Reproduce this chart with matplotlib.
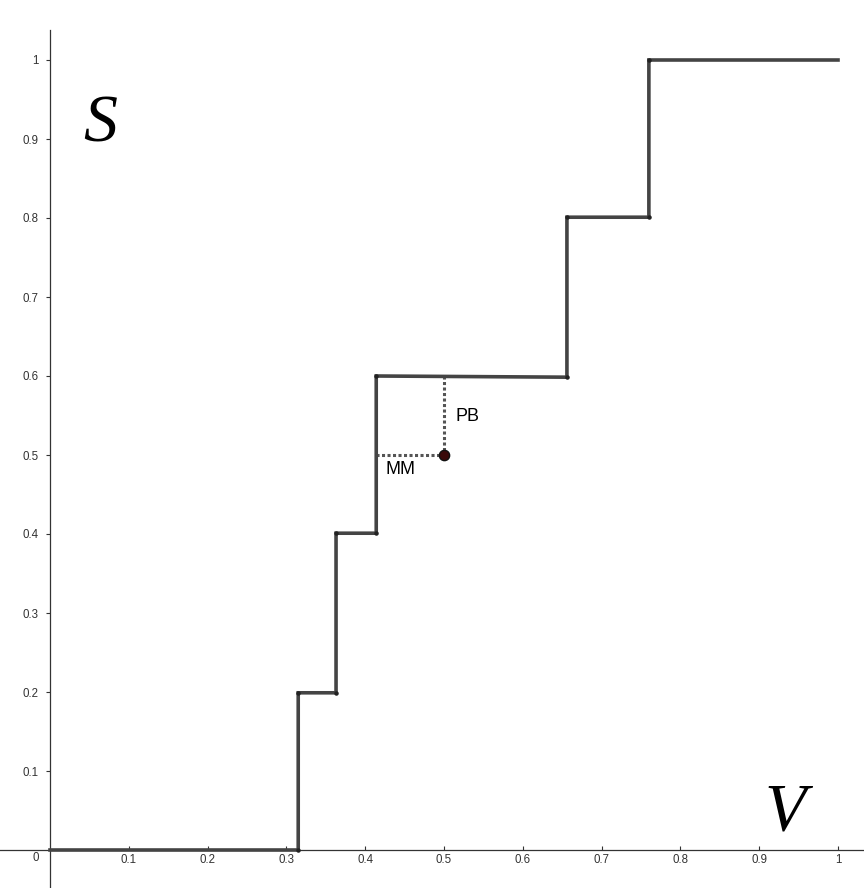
import matplotlib
matplotlib.use("Agg")
import matplotlib.pyplot as plt

# step function vertices (V, S)
step_x = [0.0, 0.315, 0.315, 0.363, 0.363, 0.414, 0.414, 0.656, 0.656, 0.760, 0.760, 1.0]
step_y = [0.0, 0.0, 0.199, 0.199, 0.401, 0.401, 0.600, 0.5985, 0.801, 0.801, 1.0, 1.0]
point_x, point_y = 0.5, 0.5
mm_x0 = 0.414
pb_y1 = 0.5995
xticks = [0, 0.1, 0.2, 0.3, 0.4, 0.5, 0.6, 0.7, 0.8, 0.9, 1]
yticks = [0.1, 0.2, 0.3, 0.4, 0.5, 0.6, 0.7, 0.8, 0.9, 1]
xtick_labels = ["0", "0.1", "0.2", "0.3", "0.4", "0.5", "0.6", "0.7", "0.8", "0.9", "1"]
ytick_labels = ["0.1", "0.2", "0.3", "0.4", "0.5", "0.6", "0.7", "0.8", "0.9", "1"]

fig = plt.figure(figsize=(8.64, 8.88), dpi=100)
ax = fig.add_axes([0, 0, 1, 1])
xmin, xmax = -50/788, 814/788
ymin, ymax = -38/790, 850/790
ax.set_xlim(xmin, xmax)
ax.set_ylim(ymin, ymax)

for s in ["top", "right"]:
    ax.spines[s].set_visible(False)
ax.spines["left"].set_position(("data", 0))
ax.spines["bottom"].set_position(("data", 0))
ax.spines["left"].set_bounds(ymin, 820/790)
ax.spines["bottom"].set_bounds(xmin, xmax)
for s in ["left", "bottom"]:
    ax.spines[s].set_color("#333333")
    ax.spines[s].set_linewidth(0.9)

ax.set_xticks(xticks[1:])
ax.set_xticklabels(xtick_labels[1:])
ax.set_yticks(yticks)
ax.set_yticklabels(ytick_labels)
ax.tick_params(axis="x", direction="in", length=3, width=0.8, labelsize=8.3, pad=3, colors="#333333")
ax.tick_params(axis="y", direction="out", length=3, width=0.8, labelsize=8.3, pad=5, colors="#333333")
for lab in ax.get_xticklabels() + ax.get_yticklabels():
    lab.set_fontfamily("Liberation Sans")
ax.text(-0.0135, -0.003, xtick_labels[0], ha="right", va="top", fontsize=8.3,
        fontfamily="Liberation Sans", color="#333333")

ax.plot(step_x, step_y, color="#444444", lw=2.6, solid_joinstyle="miter", zorder=3)
ax.scatter([x for x in step_x[1:-1]], [y for y in step_y[1:-1]], s=5, color="#222222", zorder=4)

ax.plot([mm_x0, point_x], [point_y, point_y], color="#555555", lw=2.2, ls=(0, (1, 0.8)), zorder=2)
ax.plot([point_x, point_x], [pb_y1, point_y], color="#555555", lw=2.2, ls=(0, (1, 0.8)), zorder=2)
ax.scatter([point_x], [point_y], s=55, color="#3a0a0a", edgecolor="#111111", zorder=5)

ax.text(0.514, 0.549, "PB", fontsize=13, fontfamily="Liberation Sans", ha="left", va="center")
ax.text(0.426, 0.482, "MM", fontsize=13, fontfamily="Liberation Sans", ha="left", va="center")

ax.text(0.064, 0.918, "S", fontsize=49, fontfamily="Liberation Serif", style="italic", ha="center", va="center")
ax.text(0.933, 0.047, "V", fontsize=49, fontfamily="Liberation Serif", style="italic", ha="center", va="center")

fig.savefig("out.png", dpi=100)
